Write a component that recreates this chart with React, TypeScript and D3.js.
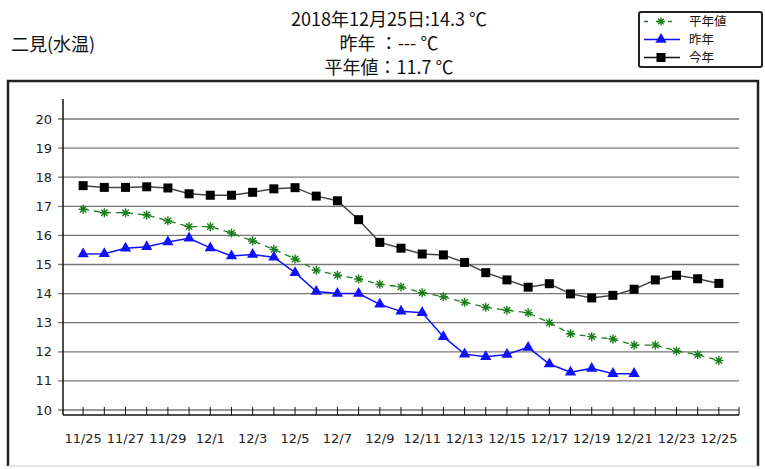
import * as d3 from "d3"
import { useEffect, useRef } from "react"

// dates on the x axis (11/25 .. 12/25)
const dates = [
  "11/25", "11/26", "11/27", "11/28", "11/29", "11/30",
  "12/1", "12/2", "12/3", "12/4", "12/5", "12/6", "12/7", "12/8", "12/9", "12/10",
  "12/11", "12/12", "12/13", "12/14", "12/15", "12/16", "12/17", "12/18", "12/19",
  "12/20", "12/21", "12/22", "12/23", "12/24", "12/25"
]

// 平年値
const normalValues = [
  16.9, 16.78, 16.78, 16.7, 16.5, 16.3, 16.3, 16.08, 15.81, 15.52, 15.19,
  14.8, 14.63, 14.5, 14.32, 14.23, 14.03, 13.89, 13.7, 13.53, 13.43, 13.34,
  13.0, 12.62, 12.52, 12.44, 12.23, 12.23, 12.03, 11.9, 11.7
]

// 昨年 (data stops at 12/21)
const lastYearValues = [
  15.36, 15.37, 15.56, 15.61, 15.77, 15.9, 15.57, 15.29, 15.34, 15.25, 14.72,
  14.07, 14.0, 14.0, 13.63, 13.39, 13.34, 12.52, 11.92, 11.83, 11.91, 12.15,
  11.58, 11.3, 11.43, 11.25, 11.25
]

// 今年
const thisYearValues = [
  17.71, 17.65, 17.65, 17.67, 17.63, 17.43, 17.38, 17.38, 17.48, 17.6, 17.64,
  17.35, 17.19, 16.54, 15.76, 15.56, 15.36, 15.33, 15.07, 14.72, 14.47, 14.22,
  14.34, 13.99, 13.85, 13.94, 14.15, 14.47, 14.63, 14.51, 14.35
]

const yTicks = [10, 11, 12, 13, 14, 15, 16, 17, 18, 19, 20]

const titleLines = ["2018年12月25日:14.3 ℃", "昨年 ：--- ℃", "平年値：11.7 ℃"]

const legendItems = [
  { key: "normal", label: "平年値" },
  { key: "last", label: "昨年" },
  { key: "this", label: "今年" }
]

const WIDTH = 765
const HEIGHT = 469
const GREEN = "#1a7f1a"
const BLUE = "#1010ff"
const BLACK = "#111"

// 8-ray asterisk marker
const asterisk = (r: number) => {
  const d = r * Math.SQRT1_2
  return `M${-r},0L${r},0M0,${-r}L0,${r}M${-d},${-d}L${d},${d}M${-d},${d}L${d},${-d}`
}

const App = () => {
  const svgRef = useRef<SVGSVGElement | null>(null)

  useEffect(() => {
    if (!svgRef.current) return
    const svg = d3.select(svgRef.current)
    svg.selectAll("*").remove()

    const fontMain = "'Noto Sans CJK JP', 'DejaVu Sans', sans-serif"
    const fontAxis = "'DejaVu Sans', sans-serif"

    // outer frame of plot area
    svg.append("path")
      .attr("d", "M8,466L8,81L758,81L758,466")
      .attr("fill", "none")
      .attr("stroke", "#222")
      .attr("stroke-width", 2.5)
    svg.append("line")
      .attr("x1", 8).attr("x2", 758).attr("y1", 466).attr("y2", 466)
      .attr("stroke", "#ccc")

    // station name
    svg.append("text")
      .attr("x", 11)
      .attr("y", 51)
      .style("font-family", fontMain)
      .style("font-size", "18px")
      .style("fill", "#111")
      .text("二見(水温)")

    // centre title lines
    svg.selectAll(".title")
      .data(titleLines)
      .enter()
      .append("text")
      .attr("class", "title")
      .attr("x", 389)
      .attr("y", (_d, i) => 26 + i * 24)
      .attr("text-anchor", "middle")
      .style("font-family", fontMain)
      .style("font-size", "18px")
      .style("fill", "#111")
      .text(d => d)

    // scales
    const x = d3.scalePoint<string>().domain(dates).range([63, 739]).padding(0.95)
    const y = d3.scaleLinear().domain([10, 20]).range([410, 119])

    // grid lines + y ticks
    const grid = svg.append("g")
    grid.selectAll("line.grid")
      .data(yTicks)
      .enter()
      .append("line")
      .attr("class", "grid")
      .attr("x1", 58)
      .attr("x2", 739)
      .attr("y1", d => y(d))
      .attr("y2", d => y(d))
      .attr("stroke", "#777")
      .attr("stroke-width", 1.3)

    grid.selectAll("text")
      .data(yTicks)
      .enter()
      .append("text")
      .attr("x", 52)
      .attr("y", d => y(d) + 4.5)
      .attr("text-anchor", "end")
      .style("font-family", fontAxis)
      .style("font-size", "13px")
      .style("fill", "#222")
      .text(d => d)

    // axes
    svg.append("line")
      .attr("x1", 63).attr("x2", 63).attr("y1", 99).attr("y2", 415)
      .attr("stroke", BLACK).attr("stroke-width", 1.5)
    svg.append("line")
      .attr("x1", 63).attr("x2", 739).attr("y1", 415).attr("y2", 415)
      .attr("stroke", BLACK).attr("stroke-width", 1.5)

    const tickXs = dates.map(d => x(d) as number).concat([739])
    svg.selectAll("line.xtick")
      .data(tickXs)
      .enter()
      .append("line")
      .attr("class", "xtick")
      .attr("x1", d => d).attr("x2", d => d)
      .attr("y1", 407).attr("y2", 415)
      .attr("stroke", BLACK)
      .attr("stroke-width", 1)

    svg.selectAll("text.xlabel")
      .data(dates.filter((_d, i) => i % 2 === 0))
      .enter()
      .append("text")
      .attr("class", "xlabel")
      .attr("x", d => x(d) as number)
      .attr("y", 443)
      .attr("text-anchor", "middle")
      .style("font-family", fontAxis)
      .style("font-size", "13px")
      .style("fill", "#222")
      .text(d => d)

    const line = d3.line<[number, number]>().x(d => d[0]).y(d => d[1])

    const toPoints = (vals: number[]) =>
      vals.map((v, i) => [x(dates[i]) as number, y(v)] as [number, number])

    // 平年値 (green dashed, asterisk)
    const normalPts = toPoints(normalValues)
    svg.append("path")
      .attr("d", line(normalPts))
      .attr("fill", "none")
      .attr("stroke", GREEN)
      .attr("stroke-width", 1.3)
      .attr("stroke-dasharray", "6,5")
    svg.selectAll("path.star")
      .data(normalPts)
      .enter()
      .append("path")
      .attr("class", "star")
      .attr("transform", d => `translate(${d[0]},${d[1]})`)
      .attr("d", asterisk(4.5))
      .attr("stroke", GREEN)
      .attr("stroke-width", 1.4)

    // 昨年 (blue, triangles)
    const lastPts = toPoints(lastYearValues)
    svg.append("path")
      .attr("d", line(lastPts))
      .attr("fill", "none")
      .attr("stroke", BLUE)
      .attr("stroke-width", 1.5)
    const tri = d3.symbol().type(d3.symbolTriangle).size(55)
    svg.selectAll("path.tri")
      .data(lastPts)
      .enter()
      .append("path")
      .attr("class", "tri")
      .attr("transform", d => `translate(${d[0]},${d[1]})`)
      .attr("d", tri())
      .attr("fill", BLUE)

    // 今年 (black, squares)
    const thisPts = toPoints(thisYearValues)
    svg.append("path")
      .attr("d", line(thisPts))
      .attr("fill", "none")
      .attr("stroke", "#444")
      .attr("stroke-width", 1.5)
    svg.selectAll("rect.sq")
      .data(thisPts)
      .enter()
      .append("rect")
      .attr("class", "sq")
      .attr("x", d => d[0] - 4.5)
      .attr("y", d => d[1] - 4.5)
      .attr("width", 9)
      .attr("height", 9)
      .attr("fill", "#000")

    // legend
    const legend = svg.append("g").attr("transform", "translate(639,12)")
    legend.append("rect")
      .attr("width", 123)
      .attr("height", 55)
      .attr("rx", 2)
      .attr("fill", "#fff")
      .attr("stroke", "#222")
      .attr("stroke-width", 2)

    const rows = legend.selectAll("g.item")
      .data(legendItems)
      .enter()
      .append("g")
      .attr("class", "item")
      .attr("transform", (_d, i) => `translate(0,${9.5 + i * 18})`)

    rows.append("line")
      .attr("x1", 5).attr("x2", 41).attr("y1", 0).attr("y2", 0)
      .attr("stroke", d => (d.key === "normal" ? GREEN : d.key === "last" ? BLUE : "#111"))
      .attr("stroke-width", 1.5)
      .attr("stroke-dasharray", d => (d.key === "normal" ? "4,8" : null))

    rows.each(function (d) {
      const g = d3.select(this)
      if (d.key === "normal") {
        g.append("path").attr("transform", "translate(22,0)").attr("d", asterisk(4))
          .attr("stroke", GREEN).attr("stroke-width", 1.4)
      } else if (d.key === "last") {
        g.append("path").attr("transform", "translate(22,0)").attr("d", tri())
          .attr("fill", BLUE)
      } else {
        g.append("rect").attr("x", 17.5).attr("y", -4.5).attr("width", 9).attr("height", 9)
          .attr("fill", "#000")
      }
    })

    rows.append("text")
      .attr("x", 50)
      .attr("y", 4.5)
      .style("font-family", fontMain)
      .style("font-size", "12.5px")
      .style("fill", "#111")
      .text(d => d.label)
  }, [])

  return (
    <svg
      ref={svgRef}
      width={WIDTH}
      height={HEIGHT}
      style={{ position: "fixed", left: 0, top: 0, background: "#fff" }}
    />
  )
}

export default App
